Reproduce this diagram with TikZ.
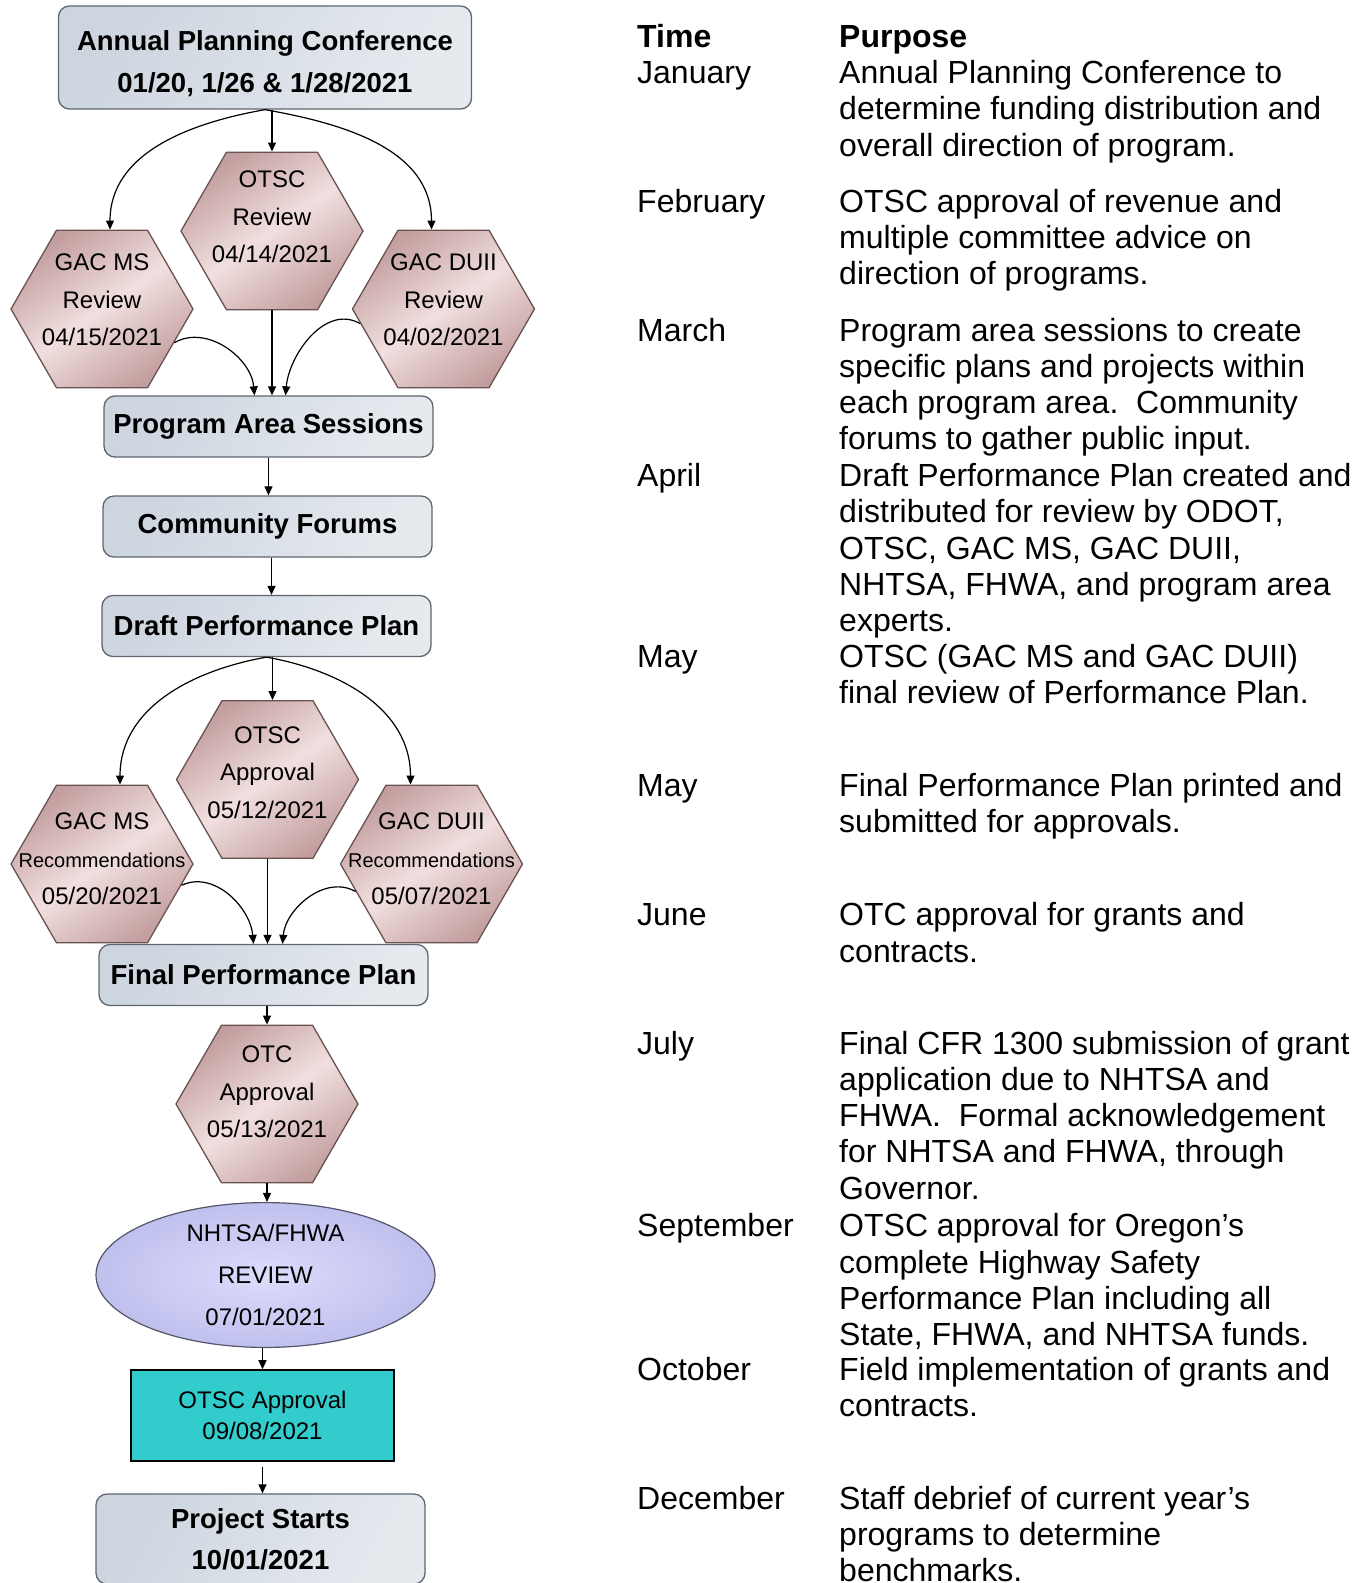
\documentclass[tikz,border=0pt]{standalone}
\usepackage{fontspec}
\setmainfont{Liberation Sans}
\usetikzlibrary{shapes.geometric,arrows.meta}

\definecolor{boxline}{HTML}{5E6670}
\definecolor{boxlight}{HTML}{E6EAEF}
\definecolor{boxdark}{HTML}{CDD5DF}
\definecolor{hexline}{HTML}{6A5252}
\definecolor{hexlight}{HTML}{F1DFDF}
\definecolor{hexdark}{HTML}{C39E9E}
\definecolor{ellline}{HTML}{55556A}
\definecolor{elllight}{HTML}{DCDCFC}
\definecolor{elldark}{HTML}{C0C0EE}
\definecolor{tealfill}{HTML}{33CCCC}

\begin{document}
\begin{tikzpicture}[x=1pt,y=-1pt,
    box/.style = {draw=boxline, line width=1.3pt, rounded corners=11pt,
      left color=boxdark, right color=boxlight, shading angle=60,
      inner sep=0, align=center, minimum width=329pt, minimum height=61pt,
      font=\bfseries\fontsize{27.5}{41.4}\selectfont},
    hexa/.style = {regular polygon, regular polygon sides=6, minimum size=182pt,
      inner sep=0, draw=hexline, line width=1.3pt,
      top color=hexdark, bottom color=hexdark, middle color=hexlight, shading angle=35},
    hexlbl/.style = {align=center, inner sep=0, font=\fontsize{24}{37.3}\selectfont},
    ell/.style = {ellipse, minimum width=339pt, minimum height=132pt, inner sep=0,
      draw=ellline, line width=1.2pt, inner color=elllight, outer color=elldark,
      align=center, font=\fontsize{24}{42.4}\selectfont},
    tealbox/.style = {draw=black, line width=1.6pt, fill=tealfill, inner sep=0,
      minimum width=263pt, minimum height=91pt, align=center,
      font=\fontsize{24}{30.3}\selectfont},
    arr/.style = {-{Triangle[length=9pt,width=8pt]}, line width=1.2pt},
    row/.style = {anchor=base west, align=left, inner sep=0,
      font=\fontsize{32}{36.3}\selectfont},
    head/.style = {row, font=\bfseries\fontsize{32}{36.3}\selectfont}]
  \useasboundingbox (0,0) rectangle (1364,1583);

  % flow chart
  \node[box, minimum width=413pt, minimum height=103pt] (apc) at (265,57.5) {\rule{0pt}{32pt}Annual Planning Conference\\01/20, 1/26 \& 1/28/2021};
  \node[hexa] (rev) at (272,231) {};
  \node[hexlbl] (rev-t) at ([yshift=14pt]rev.center) {OTSC\\Review\\04/14/2021};
  \node[hexa] (msrev) at (102,309) {};
  \node[hexlbl] (msrev-t) at ([yshift=9pt]msrev.center) {GAC MS\\Review\\04/15/2021};
  \node[hexa] (duirev) at (443.5,309) {};
  \node[hexlbl] (duirev-t) at ([yshift=9pt]duirev.center) {GAC DUII\\Review\\04/02/2021};
  \node[box] (pas) at (268.5,426.5) {Program Area Sessions};
  \node[box] (cf) at (267.5,526.5) {Community Forums};
  \node[box] (dpp) at (266.5,626) {Draft Performance Plan};
  \node[hexa] (osa) at (267.5,779.5) {};
  \node[hexlbl] (osa-t) at ([yshift=7pt]osa.center) {OTSC\\Approval\\05/12/2021};
  \node[hexa] (msrec) at (102,864) {};
  \node[hexlbl] (msrec-t) at ([yshift=5pt]msrec.center) {GAC MS\\{\fontsize{20}{37.3}\selectfont Recommendations}\\05/20/2021};
  \node[hexa] (duirec) at (431.5,864) {};
  \node[hexlbl] (duirec-t) at ([yshift=5pt]duirec.center) {GAC DUII\\{\fontsize{20}{37.3}\selectfont Recommendations}\\05/07/2021};
  \node[box] (fpp) at (263.5,975) {Final Performance Plan};
  \node[hexa] (otc) at (267,1104) {};
  \node[hexlbl] (otc-t) at ([yshift=12pt]otc.center) {OTC\\Approval\\05/13/2021};
  \node[ell] (nhtsa) at (265.5,1275) {NHTSA/FHWA\\REVIEW\\07/01/2021};
  \node[tealbox] (ota) at (262.5,1415.5) {OTSC Approval\\09/08/2021};
  \node[box, minimum height=90pt] (ps) at (260.5,1539) {Project Starts\\10/01/2021};

  % connectors
  \draw[arr] (rev.north |- apc.south) -- (rev.north);
  \draw[arr] (apc.south) to[out=190,in=90] ([xshift=8pt]msrev.north);
  \draw[arr] (apc.south) to[out=-10,in=90] ([xshift=-12pt]duirev.north);
  \draw[arr] (rev.south) -- (rev.south |- pas.north);
  \draw[arr] (msrev.-25) to[out=30,in=95] ([xshift=-14pt]pas.north);
  \draw[arr] (duirev.190) to[out=150,in=85] ([xshift=17pt]pas.north);
  \draw[arr] (pas.south) -- (pas.south |- cf.north);
  \draw[arr] ([xshift=4pt]cf.south) -- ([xshift=4pt]cf.south |- dpp.north);
  \draw[arr] ([xshift=5pt]osa.north |- dpp.south) -- ([xshift=5pt]osa.north);
  \draw[arr] (dpp.south) to[out=190,in=90] ([xshift=18pt]msrec.north);
  \draw[arr] (dpp.south) to[out=-10,in=90] ([xshift=-21pt]duirec.north);
  \draw[arr] (osa.south) -- (osa.south |- fpp.north);
  \draw[arr] (msrec.-15) to[out=25,in=95] ([xshift=-10pt]fpp.north);
  \draw[arr] (duirec.200) to[out=150,in=85] ([xshift=19pt]fpp.north);
  \draw[arr] (otc.north |- fpp.south) -- (otc.north);
  \draw[arr] (otc.south) -- (otc.south |- nhtsa.north);
  \draw[arr] (nhtsa.south -| ota.north) -- (ota.north);
  \draw[arr, shorten <=5pt] (ota.south) -- (ota.south |- ps.north);

  % time table (base = last line of each block)
  \node[head] (time) at (637,47) {Time};
  \node[head] (purpose) at (839,47) {Purpose};
  \node[row] (jan) at (637,83.5) {January};
  \node[row] (jan-p) at (839,156.1) {Annual Planning Conference to\\determine funding distribution and\\overall direction of program.};
  \node[row] (feb) at (637,212) {February};
  \node[row] (feb-p) at (839,284.6) {OTSC approval of revenue and\\multiple committee advice on\\direction of programs.};
  \node[row] (mar) at (637,341) {March};
  \node[row] (mar-p) at (839,449.9) {Program area sessions to create\\specific plans and projects within\\each program area.\ \ Community\\forums to gather public input.};
  \node[row] (apr) at (637,486.5) {April};
  \node[row] (apr-p) at (839,631.7) {Draft Performance Plan created and\\distributed for review by ODOT,\\OTSC, GAC MS, GAC DUII,\\NHTSA, FHWA, and program area\\experts.};
  \node[row] (may) at (637,667) {May};
  \node[row] (may-p) at (839,703.3) {OTSC (GAC MS and GAC DUII)\\final review of Performance Plan.};
  \node[row] (may2) at (637,796.5) {May};
  \node[row] (may2-p) at (839,832.8) {Final Performance Plan printed and\\submitted for approvals.};
  \node[row] (jun) at (637,925.7) {June};
  \node[row] (jun-p) at (839,962) {OTC approval for grants and\\contracts.};
  \node[row] (jul) at (637,1054) {July};
  \node[row] (jul-p) at (839,1199.2) {Final CFR 1300 submission of grant\\application due to NHTSA and\\FHWA.\ \ Formal acknowledgement\\for NHTSA and FHWA, through\\Governor.};
  \node[row] (sep) at (637,1236.7) {September};
  \node[row] (sep-p) at (839,1345.6) {OTSC approval for Oregon’s\\complete Highway Safety\\Performance Plan including all\\State, FHWA, and NHTSA funds.};
  \node[row] (oct) at (637,1380) {October};
  \node[row] (oct-p) at (839,1416.3) {Field implementation of grants and\\contracts.};
  \node[row] (dec) at (637,1509.3) {December};
  \node[row] (dec-p) at (839,1581.9) {Staff debrief of current year’s\\programs to determine\\benchmarks.};
\end{tikzpicture}
\end{document}
